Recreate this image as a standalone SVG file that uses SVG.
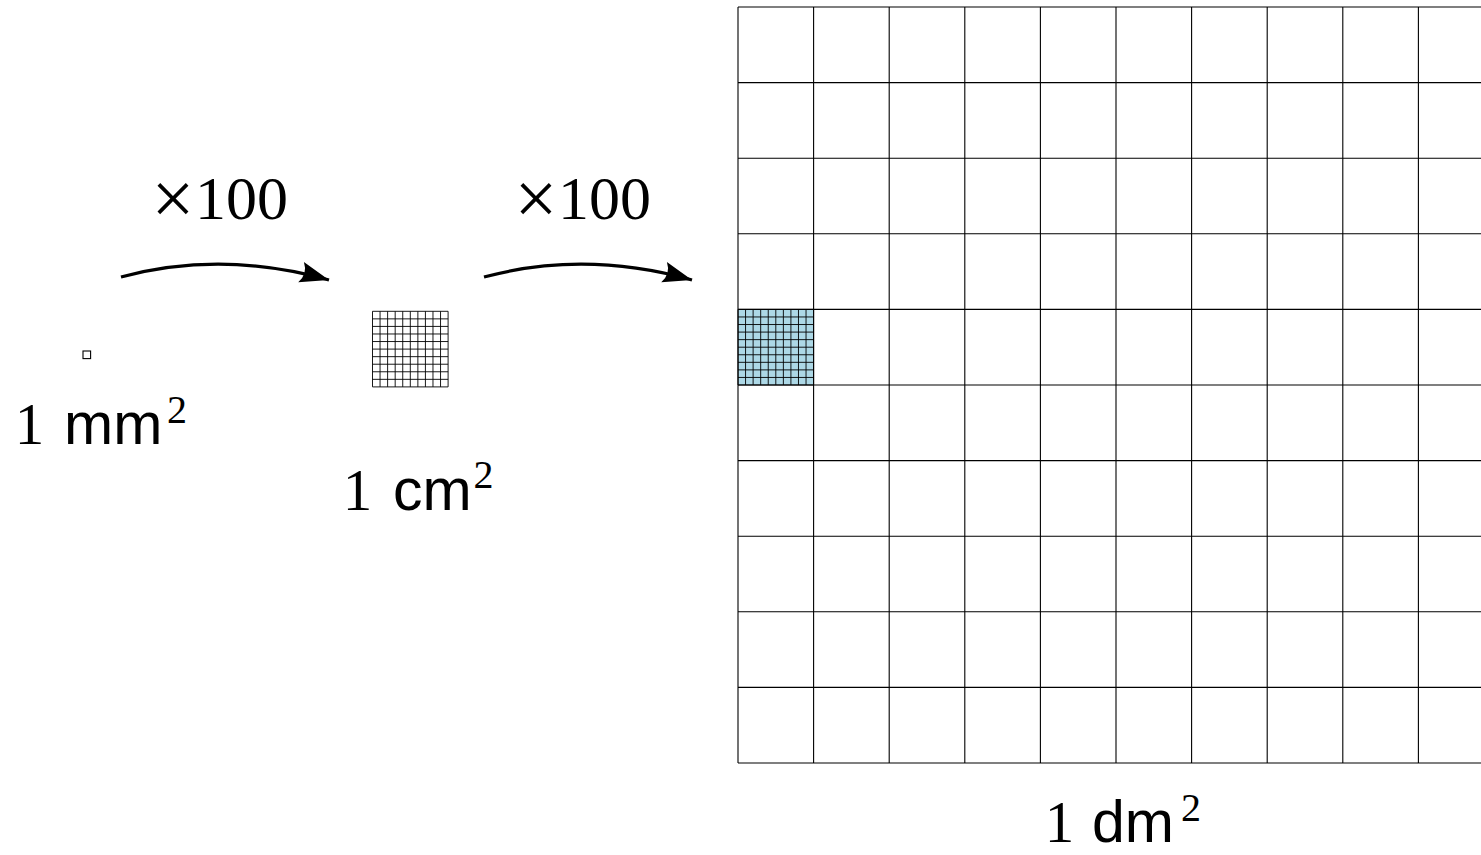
<svg xmlns="http://www.w3.org/2000/svg" width="1481" height="855" viewBox="0 0 1481 855">
<style>
.grid{fill:none;stroke:#000;stroke-width:1.1}
.fine{fill:none;stroke:#000;stroke-width:0.9}
.arrow{fill:none;stroke:#000;stroke-width:3.2}
.serif{font-family:"Liberation Serif","Times New Roman",serif;font-size:62px;fill:#000}
.times{font-family:"Liberation Serif","Times New Roman",serif;font-size:76px;fill:#000}
.one{font-family:"Liberation Serif","Times New Roman",serif;font-size:59px;fill:#000}
.sans{font-family:"Liberation Sans",Arial,sans-serif;font-size:59px;fill:#000}
.sup{font-family:"Liberation Serif","Times New Roman",serif;font-size:40px;fill:#000}
</style>
<defs>
<marker id="head" markerUnits="userSpaceOnUse" viewBox="-30 -12 32 24" markerWidth="32" markerHeight="24" refX="0" refY="0" orient="auto" overflow="visible">
<path d="M0,0 L-29,-10.5 Q-22,0 -29,10.5 Z" fill="#000"/>
</marker>
</defs>
<rect width="1481" height="855" fill="#fff"/>

<g id="mm">
<rect x="83" y="351" width="7.6" height="7.6" class="grid"/>
<text class="one" x="29.5" y="444" text-anchor="middle">1</text>
<text class="sans" x="64" y="444">mm</text>
<text class="sup" x="177" y="423" text-anchor="middle">2</text>
</g>

<g id="cm">
<path class="fine" d="M372.5,311.3h75.6M372.5,318.86h75.6M372.5,326.42h75.6M372.5,333.98h75.6M372.5,341.54h75.6M372.5,349.1h75.6M372.5,356.66h75.6M372.5,364.22h75.6M372.5,371.78h75.6M372.5,379.34h75.6M372.5,386.9h75.6M372.5,311.3v75.6M380.06,311.3v75.6M387.62,311.3v75.6M395.18,311.3v75.6M402.74,311.3v75.6M410.3,311.3v75.6M417.86,311.3v75.6M425.42,311.3v75.6M432.98,311.3v75.6M440.54,311.3v75.6M448.1,311.3v75.6"/>
<text class="one" x="357.5" y="510" text-anchor="middle">1</text>
<text class="sans" x="393" y="510">cm</text>
<text class="sup" x="483.5" y="488" text-anchor="middle">2</text>
</g>

<g id="dm">
<rect x="738" y="309.4" width="75.6" height="75.6" fill="#add8e6"/>
<path class="fine" d="M738,309.4h75.6M738,316.96h75.6M738,324.52h75.6M738,332.08h75.6M738,339.64h75.6M738,347.2h75.6M738,354.76h75.6M738,362.32h75.6M738,369.88h75.6M738,377.44h75.6M738,385h75.6M738,309.4v75.6M745.56,309.4v75.6M753.12,309.4v75.6M760.68,309.4v75.6M768.24,309.4v75.6M775.8,309.4v75.6M783.36,309.4v75.6M790.92,309.4v75.6M798.48,309.4v75.6M806.04,309.4v75.6M813.6,309.4v75.6"/>
<path class="grid" d="M738,7h756M738,82.6h756M738,158.2h756M738,233.8h756M738,309.4h756M738,385h756M738,460.6h756M738,536.2h756M738,611.8h756M738,687.4h756M738,763h756M738,7v756M813.6,7v756M889.2,7v756M964.8,7v756M1040.4,7v756M1116,7v756M1191.6,7v756M1267.2,7v756M1342.8,7v756M1418.4,7v756M1494,7v756"/>
<text class="one" x="1059.5" y="842" text-anchor="middle">1</text>
<text class="sans" x="1092" y="842">dm</text>
<text class="sup" x="1191" y="821" text-anchor="middle">2</text>
</g>

<g id="connectors">
<path class="arrow" d="M121,277 Q222,250 329,280" marker-end="url(#head)"/>
<text class="times" x="173" y="224" text-anchor="middle">×</text>
<text class="serif" x="195" y="219">100</text>
<path class="arrow" d="M484,277 Q585,250 692,280" marker-end="url(#head)"/>
<text class="times" x="536" y="224" text-anchor="middle">×</text>
<text class="serif" x="558" y="219">100</text>
</g>
</svg>
